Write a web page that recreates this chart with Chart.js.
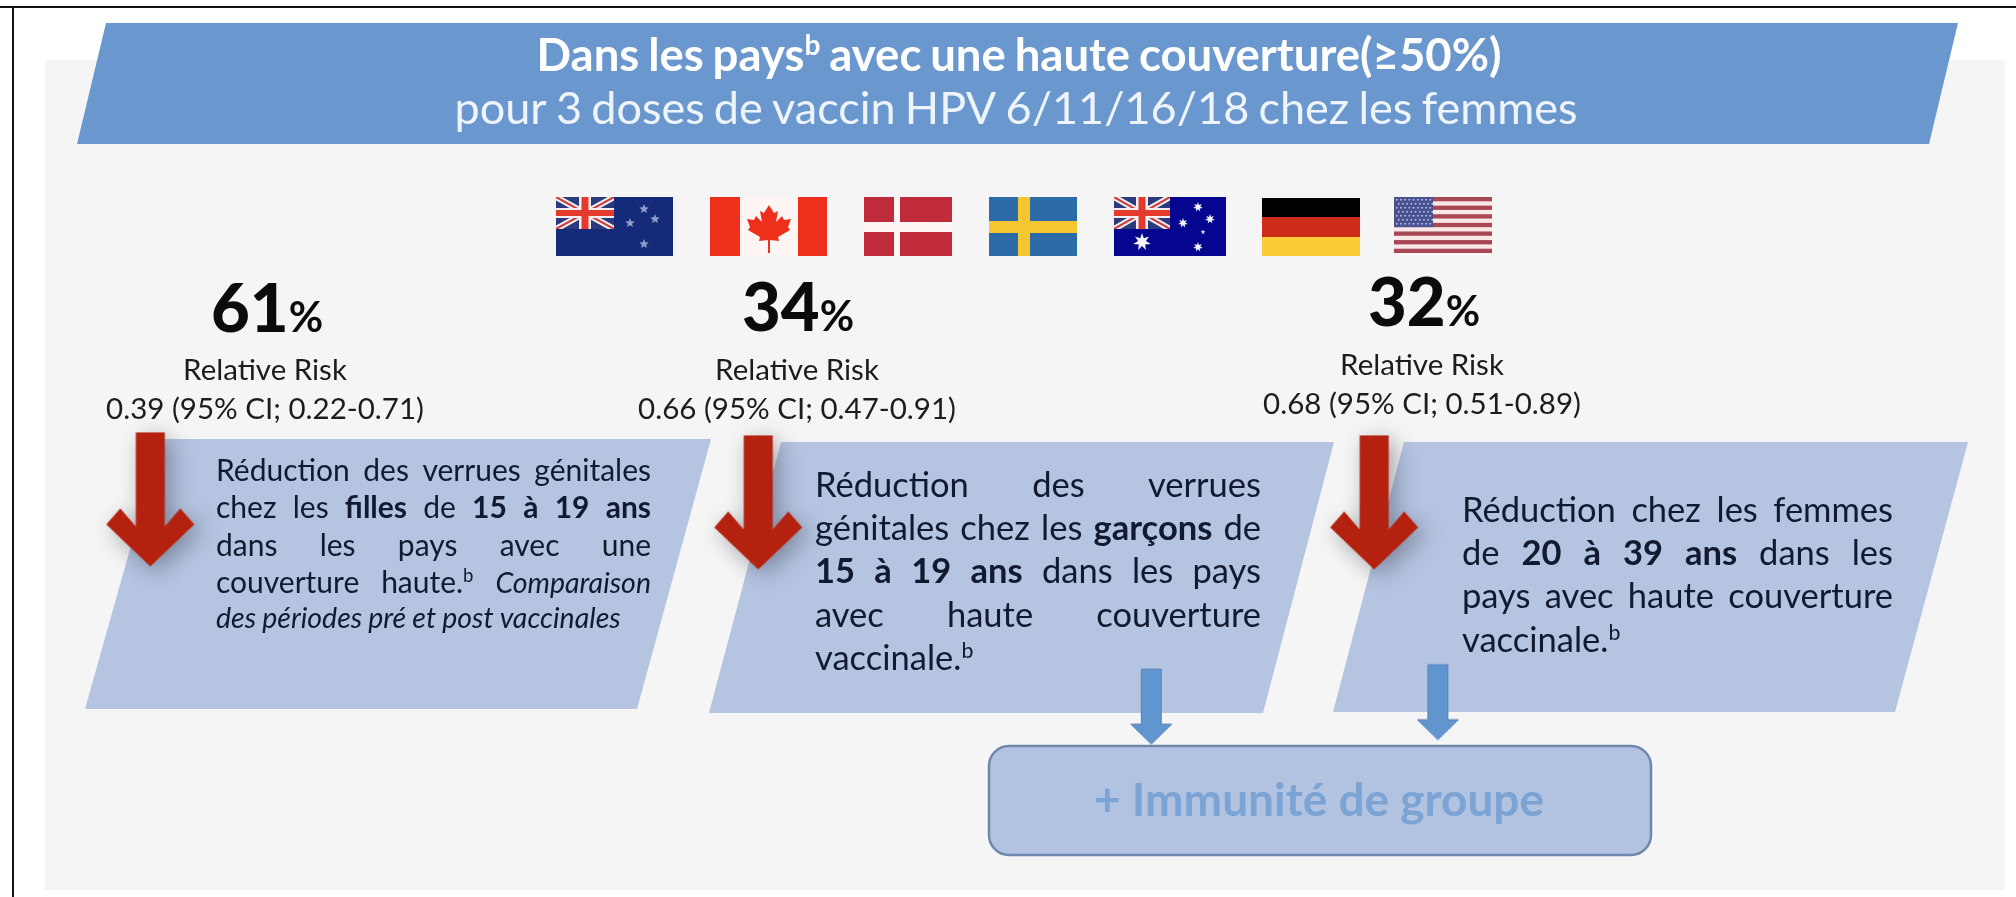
<!DOCTYPE html>
<html lang="fr">
<head>
<meta charset="utf-8">
<title>Réduction des verrues génitales</title>
<script src="https://cdn.jsdelivr.net/npm/chart.js@4/dist/chart.umd.min.js"></script>
<style>
  html, body { margin: 0; padding: 0; background: #fff; }
  canvas { display: block; filter: blur(0.6px); }
</style>
</head>
<body>
<canvas id="chart" width="2016" height="897"></canvas>
<script>
// Values
const reductions = [61, 34, 32];
const relativeRisk = [0.39, 0.66, 0.68];
const ciLow = [0.22, 0.47, 0.51];
const ciHigh = [0.71, 0.91, 0.89];
const riskLabel = "Relative Risk";
const groupLabel = "+ Immunité de groupe";

// Texts, **bold**, __italic__, ^superscript^
const titleBold = "Dans les pays^b^ avec une haute couverture(≥50%)";
const titleLine = "pour 3 doses de vaccin HPV 6/11/16/18 chez les femmes";
const bodyLeft = [
  "Réduction des verrues génitales",
  "chez les **filles** de **15 à 19 ans**",
  "dans les pays avec une",
  "couverture haute.^b^ __Comparaison__",
  "__des périodes pré et post vaccinales__"
];
const bodyMiddle = [
  "Réduction des verrues",
  "génitales chez les **garçons** de",
  "**15 à 19 ans** dans les pays",
  "avec haute couverture",
  "vaccinale.^b^"
];
const bodyRight = [
  "Réduction chez les femmes",
  "de **20 à 39 ans** dans les",
  "pays avec haute couverture",
  "vaccinale.^b^"
];

// Page layout, the x and y scales below run in picture pixels
const FONT = "Lato";
const columns = [
  { cx: 265, top: 439, bottom: 709, topL: 161, topR: 711, botL: 85, botR: 637,
    bigX: 211, bigY: 332, riskY: 380, ciY: 419,
    left: 216, right: 651, size: 30, lines: bodyLeft, ys: [481, 518, 556, 593, 628], last: 3 },
  { cx: 797, top: 442, bottom: 713, topL: 781, topR: 1334, botL: 709, botR: 1263,
    bigX: 742, bigY: 331, riskY: 380, ciY: 419,
    left: 815, right: 1261, size: 34.5, lines: bodyMiddle, ys: [497, 540, 583, 627, 670], last: 3 },
  { cx: 1422, top: 442, bottom: 712, topL: 1404, topR: 1968, botL: 1333, botR: 1895,
    bigX: 1368, bigY: 326, riskY: 375, ciY: 414,
    left: 1462, right: 1893, size: 34.5, lines: bodyRight, ys: [522, 565, 608, 652], last: 2 }
];
const redArrows = [{ x: 146, y: 500 }, { x: 757, y: 503 }, { x: 1376, y: 503 }];
const blueArrows = [{ x: 1152, y: 709.5 }, { x: 1440, y: 705 }];

function makeArrow(halfShaft, halfWing, height, wingY, notch, color, shadow) {
  const margin = 40;
  const c = document.createElement("canvas");
  c.width = halfWing * 2 + margin * 2;
  c.height = height + margin * 2;
  const ctx = c.getContext("2d");
  ctx.translate(margin + halfWing, margin);
  if (shadow) {
    ctx.shadowColor = "rgba(60,60,70,0.45)";
    ctx.shadowBlur = 22;
    ctx.shadowOffsetX = 6;
    ctx.shadowOffsetY = 6;
  }
  ctx.fillStyle = color;
  ctx.beginPath();
  ctx.moveTo(-halfShaft, 0);
  ctx.lineTo(halfShaft, 0);
  ctx.lineTo(halfShaft, wingY + notch);
  ctx.lineTo(halfWing - 14, wingY - 16);
  ctx.lineTo(halfWing, wingY);
  ctx.lineTo(0, height);
  ctx.lineTo(-halfWing, wingY);
  ctx.lineTo(-halfWing + 14, wingY - 16);
  ctx.lineTo(-halfShaft, wingY + notch);
  ctx.closePath();
  ctx.fill();
  return c;
}

function makeBlueArrow() {
  const margin = 4;
  const c = document.createElement("canvas");
  c.width = 41 + margin * 2;
  c.height = 75 + margin * 2;
  const ctx = c.getContext("2d");
  ctx.translate(margin + 20.5, margin);
  ctx.fillStyle = "#6095d0";
  ctx.strokeStyle = "#5b83b5";
  ctx.beginPath();
  ctx.moveTo(-10, 0);
  ctx.lineTo(10, 0);
  ctx.lineTo(10, 55);
  ctx.lineTo(20.5, 55);
  ctx.lineTo(0, 75);
  ctx.lineTo(-20.5, 55);
  ctx.lineTo(-10, 55);
  ctx.closePath();
  ctx.fill();
  ctx.stroke();
  return c;
}

// Splits **bold**, __italic__ and ^sup^ marks into words with a style
function parseWords(line) {
  const words = [];
  let bold = false, italic = false, sup = false, cur = [];
  const flush = () => { if (cur.length) words.push(cur); cur = []; };
  let buf = "";
  const push = () => { if (buf) cur.push({ t: buf, bold, italic, sup }); buf = ""; };
  for (let i = 0; i < line.length; i++) {
    const two = line.substr(i, 2);
    if (two === "**") { push(); bold = !bold; i++; }
    else if (two === "__") { push(); italic = !italic; i++; }
    else if (line[i] === "^") { push(); sup = !sup; }
    else if (line[i] === " ") { push(); flush(); }
    else buf += line[i];
  }
  push();
  flush();
  return words;
}

function runFont(run, size, forceBold) {
  let s = run.sup ? size * 0.62 : size;
  if (run.italic) s *= 0.95;
  return (run.italic ? "italic " : "") + (run.bold || forceBold ? "bold " : "") + s + "px " + FONT;
}

function wordWidth(ctx, word, size, forceBold) {
  return word.reduce((w, run) => {
    ctx.font = runFont(run, size, forceBold);
    return w + ctx.measureText(run.t).width;
  }, 0);
}

function drawWord(ctx, word, x, y, size, forceBold) {
  word.forEach(run => {
    ctx.font = runFont(run, size, forceBold);
    ctx.fillText(run.t, x, run.sup ? y - size * 0.36 : y);
    x += ctx.measureText(run.t).width;
  });
  return x;
}

// Justified when the right edge is given, else plain left aligned
function drawLine(ctx, line, x, y, size, right, forceBold) {
  const words = parseWords(line);
  const widths = words.map(w => wordWidth(ctx, w, size, forceBold));
  ctx.font = (forceBold ? "bold " : "") + size + "px " + FONT;
  let gap = ctx.measureText(" ").width;
  if (right && words.length > 1) {
    gap = (right - x - widths.reduce((a, b) => a + b, 0)) / (words.length - 1);
  } else if (!right) {
    gap *= 0.8;
  }
  words.forEach((w, i) => {
    drawWord(ctx, w, x, y, size, forceBold);
    x += widths[i] + gap;
  });
}

function lineWidth(ctx, line, size, forceBold) {
  const words = parseWords(line);
  ctx.font = (forceBold ? "bold " : "") + size + "px " + FONT;
  const space = ctx.measureText(" ").width * 0.8;
  return words.reduce((w, word) => w + wordWidth(ctx, word, size, forceBold), 0) + space * (words.length - 1);
}

function poly(ctx, pts, color) {
  ctx.fillStyle = color;
  ctx.beginPath();
  pts.forEach((p, i) => (i ? ctx.lineTo(p[0], p[1]) : ctx.moveTo(p[0], p[1])));
  ctx.closePath();
  ctx.fill();
}

function star(ctx, x, y, r, color, points) {
  const pts = [];
  for (let i = 0; i < points * 2; i++) {
    const a = -Math.PI / 2 + (i * Math.PI) / points;
    const rr = i % 2 ? r * 0.45 : r;
    pts.push([x + Math.cos(a) * rr, y + Math.sin(a) * rr]);
  }
  poly(ctx, pts, color);
}

function unionJack(ctx, x, y, w, h) {
  ctx.fillStyle = "#2a3a7c";
  ctx.fillRect(x, y, w, h);
  ctx.save();
  ctx.beginPath();
  ctx.rect(x, y, w, h);
  ctx.clip();
  ctx.lineCap = "butt";
  ctx.strokeStyle = "#f2eef2";
  ctx.lineWidth = 6;
  ctx.beginPath();
  ctx.moveTo(x, y); ctx.lineTo(x + w, y + h);
  ctx.moveTo(x + w, y); ctx.lineTo(x, y + h);
  ctx.stroke();
  ctx.strokeStyle = "#cf3b3b";
  ctx.lineWidth = 2;
  ctx.stroke();
  ctx.fillStyle = "#f2eef2";
  ctx.fillRect(x + w / 2 - 6, y, 12, h);
  ctx.fillRect(x, y + h / 2 - 5, w, 10);
  ctx.fillStyle = "#e23a2c";
  ctx.fillRect(x + w / 2 - 3.5, y, 7, h);
  ctx.fillRect(x, y + h / 2 - 3, w, 6);
  ctx.restore();
}

function drawFlags(ctx) {
  // New Zealand
  ctx.fillStyle = "#152a78";
  ctx.fillRect(556, 197, 117, 59);
  unionJack(ctx, 556, 197, 58, 32);
  [[644, 209], [630, 223], [655, 219], [644, 244]].forEach(p => star(ctx, p[0], p[1], 5, "#8f9cc8", 5));

  // Canada
  ctx.fillStyle = "#fdf6f4";
  ctx.fillRect(710, 197, 117, 59);
  ctx.fillStyle = "#ee2f1c";
  ctx.fillRect(710, 197, 30, 59);
  ctx.fillRect(798, 197, 29, 59);
  const mx = 769, my = 205;
  poly(ctx, [[0, 0], [5, 8], [9, 6], [7, 17], [13, 11], [15, 15], [22, 14], [19, 22], [21, 25], [9, 32], [10, 36],
    [1, 35], [1, 48], [-1, 48], [-1, 35], [-10, 36], [-9, 32], [-21, 25], [-19, 22], [-22, 14], [-15, 15], [-13, 11],
    [-7, 17], [-9, 6], [-5, 8]].map(p => [mx + p[0], my + p[1]]), "#ee2f1c");

  // Denmark
  ctx.fillStyle = "#fdf6f4";
  ctx.fillRect(864, 197, 88, 59);
  ctx.fillStyle = "#bf2b3a";
  ctx.fillRect(864, 197, 30, 25);
  ctx.fillRect(900, 197, 52, 25);
  ctx.fillRect(864, 232, 30, 24);
  ctx.fillRect(900, 232, 52, 24);

  // Sweden
  ctx.fillStyle = "#2a6ba8";
  ctx.fillRect(989, 197, 88, 59);
  ctx.fillStyle = "#f4c730";
  ctx.fillRect(1018, 197, 12, 59);
  ctx.fillRect(989, 221, 88, 12);

  // Australia
  ctx.fillStyle = "#05058f";
  ctx.fillRect(1114, 197, 112, 59);
  unionJack(ctx, 1114, 197, 56, 32);
  [[1198, 207], [1183, 223], [1210, 219], [1198, 247]].forEach(p => star(ctx, p[0], p[1], 5, "#f4f4ff", 7));
  star(ctx, 1203, 232, 2.5, "#d8d8ff", 5);
  star(ctx, 1142, 242, 9, "#f4f4ff", 7);

  // Germany
  ctx.fillStyle = "#000";
  ctx.fillRect(1262, 198, 98, 19);
  ctx.fillStyle = "#ce2b1a";
  ctx.fillRect(1262, 217, 98, 20);
  ctx.fillStyle = "#fdcb35";
  ctx.fillRect(1262, 237, 98, 19);

  // United States
  const stripe = 56 / 13;
  ctx.fillStyle = "#f8e8e8";
  ctx.fillRect(1394, 197, 98, 56);
  ctx.fillStyle = "#a84855";
  for (let i = 0; i < 13; i += 2) ctx.fillRect(1394, 197 + i * stripe, 98, stripe);
  ctx.fillStyle = "#4a5392";
  ctx.fillRect(1394, 197, 39, stripe * 7);
  ctx.fillStyle = "#c8cce4";
  for (let r = 0; r < 7; r++) {
    for (let c = 0; c < 9; c++) ctx.fillRect(1396 + c * 4.2 + (r % 2) * 2, 199 + r * 4, 1.5, 1.5);
  }
}

const pagePlugin = {
  id: "page",
  beforeDatasetsDraw(chart) {
    const ctx = chart.ctx;
    ctx.save();
    // light panel and the black edge of the screenshot
    ctx.fillStyle = "#f5f5f5";
    ctx.fillRect(45, 60, 1960, 830);
    ctx.fillStyle = "#111";
    ctx.fillRect(0, 6, 2016, 2);
    ctx.fillRect(12, 6, 2, 891);

    poly(ctx, [[106, 23], [1958, 23], [1929, 144], [77, 144]], "#6a98ce");
    drawFlags(ctx);

    columns.forEach(col => {
      poly(ctx, [[col.topL, col.top], [col.topR, col.top], [col.botR, col.bottom], [col.botL, col.bottom]], "#b4c4e1");
    });

    // group immunity box
    ctx.beginPath();
    ctx.roundRect(989, 746, 662, 109, 20);
    ctx.fillStyle = "#b2c3e1";
    ctx.fill();
    ctx.lineWidth = 2.5;
    ctx.strokeStyle = "#6f87aa";
    ctx.stroke();
    ctx.restore();
  },
  afterDatasetsDraw(chart) {
    const ctx = chart.ctx;
    ctx.save();
    ctx.textBaseline = "alphabetic";
    ctx.textAlign = "left";

    // banner
    ctx.fillStyle = "#fff";
    drawLine(ctx, titleBold, 1019 - lineWidth(ctx, titleBold, 45.5, true) / 2, 71, 45.5, null, true);
    ctx.fillStyle = "#eef4fb";
    drawLine(ctx, titleLine, 1016 - lineWidth(ctx, titleLine, 45) / 2, 124, 45);

    columns.forEach((col, i) => {
      // big percentage
      ctx.fillStyle = "#0b0b0b";
      ctx.font = "900 67px " + FONT;
      const num = String(reductions[i]);
      ctx.fillText(num, col.bigX, col.bigY);
      const nw = ctx.measureText(num).width;
      ctx.font = "bold 42px " + FONT;
      ctx.fillText("%", col.bigX + nw, col.bigY);

      // relative risk
      const ci = relativeRisk[i].toFixed(2) + " (95% CI; " + ciLow[i].toFixed(2) + "-" + ciHigh[i].toFixed(2) + ")";
      ctx.fillStyle = "#1c1c1c";
      ctx.textAlign = "center";
      ctx.font = "29.5px " + FONT;
      ctx.fillText(riskLabel, col.cx, col.riskY);
      ctx.fillText(ci, col.cx, col.ciY);
      ctx.textAlign = "left";

      // card text
      ctx.fillStyle = "#111a30";
      col.lines.forEach((line, l) => {
        drawLine(ctx, line, col.left, col.ys[l], col.size, l <= col.last ? col.right : null);
      });
    });

    ctx.fillStyle = "#7ba3d4";
    ctx.font = "bold 46px " + FONT;
    ctx.textAlign = "center";
    ctx.fillText(groupLabel, 1319, 816);
    ctx.restore();
  }
};

new Chart(document.getElementById("chart"), {
  type: "scatter",
  data: {
    datasets: [
      {
        label: "Réduction",
        data: redArrows,
        pointStyle: makeArrow(14.5, 44, 134, 92, 2, "#b5210f", true)
      },
      {
        label: "Immunité de groupe",
        data: blueArrows,
        pointStyle: makeBlueArrow()
      }
    ]
  },
  options: {
    responsive: false,
    animation: false,
    layout: { padding: 0 },
    plugins: { legend: { display: false }, tooltip: { enabled: false } },
    scales: {
      x: { display: false, min: 0, max: 2016 },
      y: { display: false, min: 0, max: 897, reverse: true }
    }
  },
  plugins: [pagePlugin]
});
</script>
</body>
</html>
